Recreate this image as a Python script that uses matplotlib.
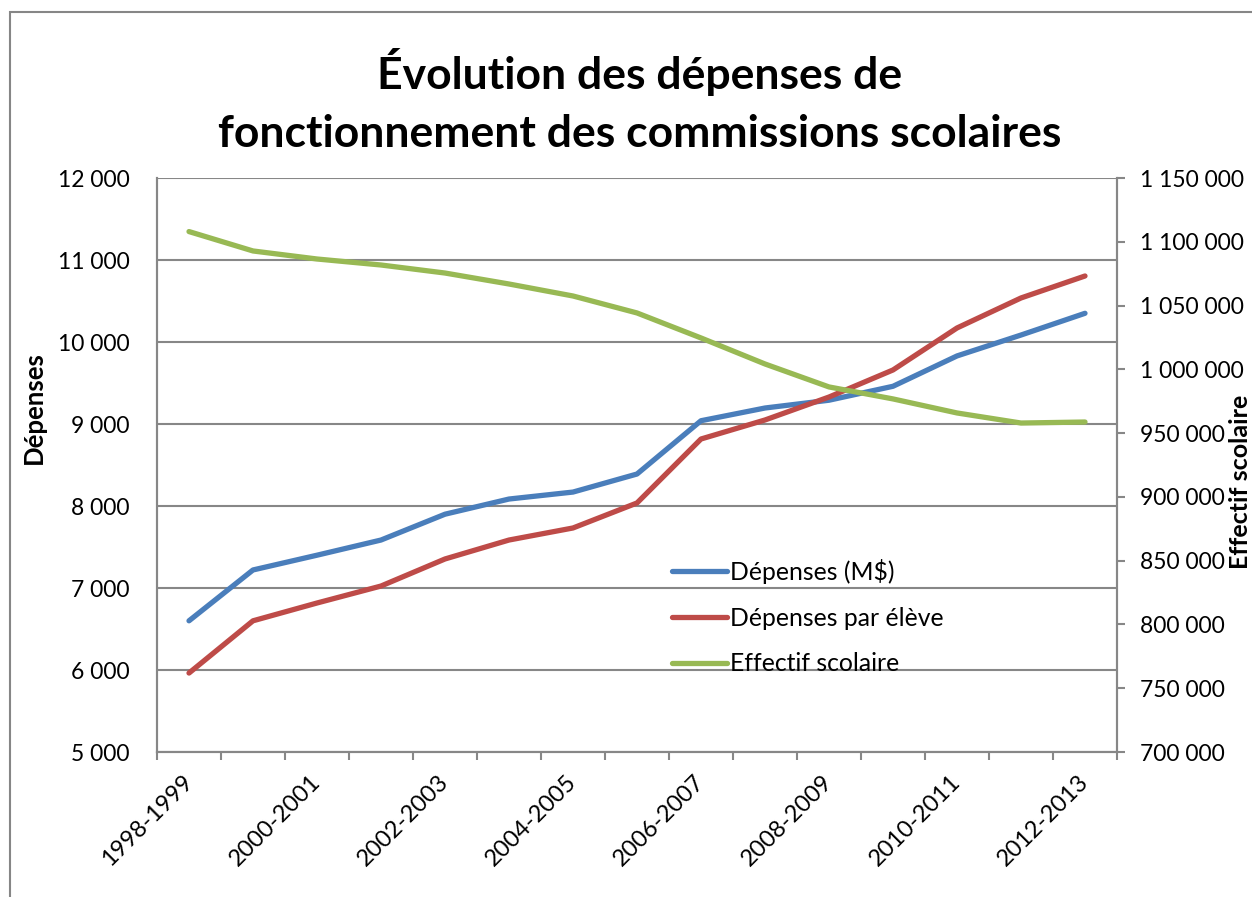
import matplotlib
matplotlib.use("Agg")
import matplotlib.pyplot as plt
from matplotlib.ticker import FuncFormatter, MultipleLocator, FixedLocator
from matplotlib.patches import Rectangle

plt.rcParams['font.family'] = ['Lato', 'DejaVu Sans']

categories = ["1998-1999", "1999-2000", "2000-2001", "2001-2002", "2002-2003",
              "2003-2004", "2004-2005", "2005-2006", "2006-2007", "2007-2008",
              "2008-2009", "2009-2010", "2010-2011", "2011-2012", "2012-2013"]
depenses = [6600, 7220, 7400, 7585, 7900, 8085, 8170, 8390, 9040, 9195,
            9290, 9460, 9830, 10085, 10350]
depenses_par_eleve = [5963, 6600, 6817, 7024, 7354, 7585, 7732, 8037, 8817, 9049,
                      9329, 9659, 10171, 10537, 10805]
effectif = [1108000, 1092800, 1086500, 1081800, 1075500, 1066900, 1057500, 1044200,
            1024600, 1004200, 986200, 976800, 965800, 957900, 958700]

title = "Évolution des dépenses de\nfonctionnement des commissions scolaires"

c_blue = "#4A7EBB"
c_red = "#BE4B48"
c_green = "#98B954"
c_grid = "#878787"

W, H = 1252, 897
fig = plt.figure(figsize=(W / 100, H / 100), dpi=100)

# outer chart border
fig.patches.append(Rectangle((10 / W, -0.05), 1.2, 1 - 12 / H + 0.05,
                             transform=fig.transFigure, fill=False,
                             edgecolor="#868686", linewidth=1.5))

ax = fig.add_axes([157 / W, 1 - 752 / H, (1117 - 157) / W, (752 - 178) / H])
ax2 = ax.twinx()

x = list(range(len(categories)))
lw = 3.8
l1, = ax.plot(x, depenses, color=c_blue, lw=lw, solid_capstyle='round',
              solid_joinstyle='round', label="Dépenses (M$)", zorder=3)
l2, = ax.plot(x, depenses_par_eleve, color=c_red, lw=lw, solid_capstyle='round',
              solid_joinstyle='round', label="Dépenses par élève", zorder=3)
l3, = ax2.plot(x, effectif, color=c_green, lw=lw, solid_capstyle='round',
               solid_joinstyle='round', label="Effectif scolaire", zorder=3)

ax.set_xlim(-0.5, len(categories) - 0.5)
ax.set_ylim(5000, 12000)
ax2.set_ylim(700000, 1150000)

fmt = FuncFormatter(lambda v, p: f"{int(v):,}".replace(",", " "))
ax.yaxis.set_major_locator(MultipleLocator(1000))
ax.yaxis.set_major_formatter(fmt)
ax2.yaxis.set_major_locator(MultipleLocator(50000))
ax2.yaxis.set_major_formatter(fmt)

ax.grid(axis='y', color=c_grid, lw=1.5)
ax.set_axisbelow(True)

# x ticks: marks between categories, labels on every other category
ax.xaxis.set_major_locator(FixedLocator([i - 0.5 for i in range(len(categories) + 1)]))
ax.xaxis.set_major_formatter(FuncFormatter(lambda v, p: ""))
ax.xaxis.set_minor_locator(FixedLocator(x[::2]))
ax.set_xticklabels([categories[i] for i in x[::2]], minor=True)
ax.tick_params(axis='x', which='major', direction='out', length=6, width=1.5, color=c_grid)
ax.tick_params(axis='x', which='minor', length=0, pad=19, labelsize=17)
for lab in ax.get_xticklabels(minor=True):
    lab.set_rotation(45)
    lab.set_rotation_mode('anchor')
    lab.set_ha('right')
    lab.set_va('center')

ax.tick_params(axis='y', length=0, pad=19.5, labelsize=16.5)
ax2.tick_params(axis='y', direction='out', length=6, width=1.5, color=c_grid,
                pad=10.5, labelsize=16.5)

for a in (ax, ax2):
    for s in a.spines.values():
        s.set_color(c_grid)
        s.set_linewidth(1.5)
ax2.spines['top'].set_visible(False)
ax.spines['top'].set_visible(False)

ax.set_ylabel("Dépenses", fontsize=18.5, fontweight='bold')
ax.yaxis.set_label_coords((46 - 157) / (1117 - 157), (752 - 408) / (752 - 178))
ax2.set_ylabel("Effectif scolaire", fontsize=18, fontweight='bold')
ax2.yaxis.set_label_coords((1229 - 157) / (1117 - 157), (752 - 482) / (752 - 178))

fig.text(640 / W, 1 - 101 / H, title, ha='center', va='center',
         fontsize=32, fontweight='bold', linespacing=1.52)

leg = ax.legend(handles=[l1, l2, l3], loc='center left',
                bbox_to_anchor=((660 - 157) / (1117 - 157), (752 - 617) / (752 - 178)),
                frameon=False, fontsize=17.8, handlelength=2.2, handletextpad=0.12,
                labelspacing=0.92, borderpad=0)
ax2.set_zorder(ax.get_zorder() + 1)
ax.patch.set_visible(False)

fig.savefig("out.png", dpi=100)
